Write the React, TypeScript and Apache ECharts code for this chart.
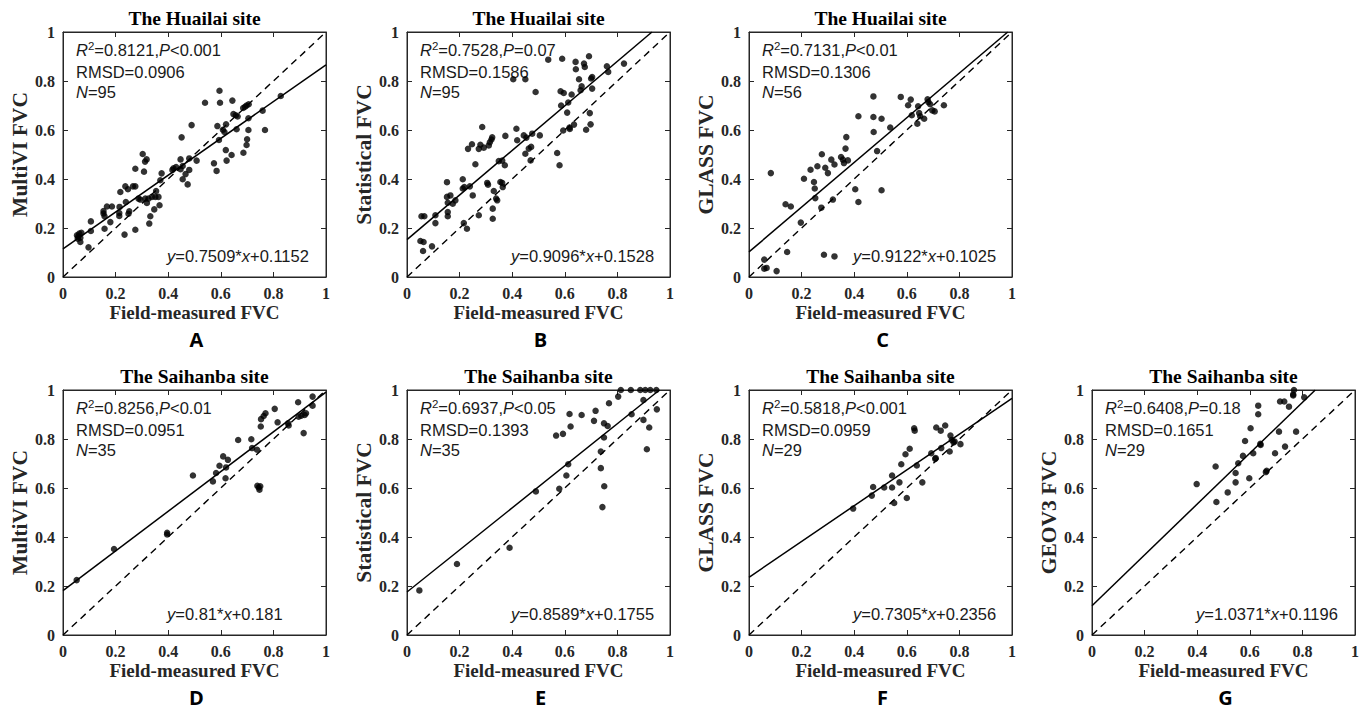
import React, { useEffect, useRef } from 'react';
import * as echarts from 'echarts';

// ---------- data (field-measured FVC, product FVC) ----------
const huailaiMultiVI = [
  [0.053, 0.17], [0.062, 0.177], [0.066, 0.16], [0.056, 0.156], [0.066, 0.143], [0.07, 0.18], [0.058, 0.165],
  [0.097, 0.121], [0.106, 0.188], [0.106, 0.227], [0.154, 0.259], [0.154, 0.269], [0.158, 0.248], [0.158, 0.197],
  [0.167, 0.288], [0.186, 0.288], [0.18, 0.224], [0.214, 0.249], [0.214, 0.261], [0.218, 0.347], [0.215, 0.286],
  [0.234, 0.173], [0.239, 0.306], [0.237, 0.37], [0.247, 0.358], [0.252, 0.268], [0.249, 0.258], [0.266, 0.37],
  [0.275, 0.37], [0.275, 0.442], [0.275, 0.193], [0.287, 0.32], [0.294, 0.316], [0.303, 0.502], [0.308, 0.43],
  [0.313, 0.32], [0.312, 0.471], [0.318, 0.48], [0.319, 0.302], [0.325, 0.32], [0.328, 0.218], [0.332, 0.248],
  [0.338, 0.327], [0.347, 0.276], [0.351, 0.327], [0.354, 0.351], [0.363, 0.327], [0.367, 0.293], [0.37, 0.395],
  [0.375, 0.423], [0.416, 0.437], [0.42, 0.444], [0.43, 0.449], [0.447, 0.44], [0.447, 0.48], [0.451, 0.57],
  [0.455, 0.399], [0.455, 0.453], [0.466, 0.42], [0.474, 0.378], [0.48, 0.437], [0.48, 0.484], [0.489, 0.62],
  [0.508, 0.475], [0.54, 0.711], [0.574, 0.464], [0.584, 0.433], [0.587, 0.616], [0.595, 0.76], [0.597, 0.711],
  [0.593, 0.559], [0.608, 0.601], [0.614, 0.592], [0.62, 0.623], [0.619, 0.518], [0.622, 0.475], [0.641, 0.498],
  [0.644, 0.72], [0.648, 0.665], [0.66, 0.603], [0.657, 0.66], [0.664, 0.655], [0.685, 0.69], [0.692, 0.695],
  [0.698, 0.7], [0.706, 0.705], [0.686, 0.507], [0.698, 0.539], [0.7, 0.562], [0.705, 0.6], [0.705, 0.648],
  [0.759, 0.679], [0.768, 0.6], [0.828, 0.739],
];

const huailaiStatistical = [
  [0.051, 0.147], [0.063, 0.143], [0.061, 0.106], [0.055, 0.248], [0.066, 0.248], [0.095, 0.125], [0.108, 0.22],
  [0.108, 0.252], [0.152, 0.387], [0.152, 0.327], [0.155, 0.303], [0.155, 0.265], [0.155, 0.248], [0.165, 0.333],
  [0.174, 0.299], [0.184, 0.313], [0.212, 0.399], [0.212, 0.361], [0.216, 0.22], [0.218, 0.367], [0.228, 0.197],
  [0.232, 0.523], [0.239, 0.37], [0.247, 0.542], [0.25, 0.333], [0.26, 0.46], [0.273, 0.523], [0.273, 0.252],
  [0.279, 0.54], [0.286, 0.612], [0.292, 0.528], [0.305, 0.384], [0.308, 0.377], [0.311, 0.537], [0.315, 0.55],
  [0.321, 0.561], [0.324, 0.57], [0.326, 0.279], [0.326, 0.238], [0.33, 0.351], [0.339, 0.32], [0.343, 0.313],
  [0.349, 0.473], [0.355, 0.388], [0.362, 0.384], [0.362, 0.475], [0.364, 0.367], [0.372, 0.456], [0.374, 0.576],
  [0.404, 0.807], [0.416, 0.605], [0.419, 0.558], [0.45, 0.807], [0.444, 0.578], [0.45, 0.503], [0.454, 0.569],
  [0.463, 0.524], [0.47, 0.476], [0.472, 0.531], [0.476, 0.585], [0.489, 0.755], [0.505, 0.578], [0.537, 0.887],
  [0.571, 0.506], [0.58, 0.456], [0.584, 0.758], [0.586, 0.7], [0.59, 0.891], [0.594, 0.598], [0.596, 0.751],
  [0.609, 0.671], [0.613, 0.712], [0.618, 0.61], [0.619, 0.604], [0.626, 0.745], [0.635, 0.622], [0.641, 0.878],
  [0.642, 0.848], [0.654, 0.807], [0.66, 0.762], [0.664, 0.778], [0.673, 0.871], [0.676, 0.857], [0.681, 0.601],
  [0.692, 0.901], [0.695, 0.669], [0.698, 0.623], [0.7, 0.81], [0.704, 0.816], [0.704, 0.769], [0.76, 0.86],
  [0.765, 0.837], [0.825, 0.871],
];

const huailaiGLASS = [
  [0.058, 0.071], [0.058, 0.034], [0.067, 0.037], [0.083, 0.424], [0.105, 0.024], [0.139, 0.297], [0.145, 0.102],
  [0.159, 0.288], [0.197, 0.222], [0.209, 0.401], [0.234, 0.438], [0.247, 0.388], [0.25, 0.361], [0.252, 0.322],
  [0.26, 0.452], [0.275, 0.283], [0.277, 0.501], [0.285, 0.091], [0.29, 0.446], [0.3, 0.424], [0.313, 0.479],
  [0.319, 0.316], [0.325, 0.459], [0.325, 0.084], [0.35, 0.49], [0.357, 0.479], [0.361, 0.465], [0.367, 0.524],
  [0.37, 0.571], [0.376, 0.476], [0.404, 0.358], [0.416, 0.656], [0.416, 0.306], [0.473, 0.737], [0.473, 0.653],
  [0.474, 0.592], [0.487, 0.514], [0.504, 0.646], [0.504, 0.354], [0.537, 0.61], [0.577, 0.735], [0.605, 0.701],
  [0.615, 0.724], [0.619, 0.66], [0.64, 0.626], [0.643, 0.697], [0.647, 0.669], [0.651, 0.656], [0.666, 0.646],
  [0.679, 0.725], [0.682, 0.714], [0.689, 0.705], [0.697, 0.68], [0.706, 0.676], [0.741, 0.701],
];

const saihanbaMultiVI = [
  [0.052, 0.224], [0.194, 0.351], [0.396, 0.417], [0.396, 0.41], [0.494, 0.651], [0.57, 0.627], [0.582, 0.661],
  [0.595, 0.691], [0.609, 0.729], [0.618, 0.64], [0.62, 0.684], [0.627, 0.715], [0.666, 0.796], [0.716, 0.799],
  [0.719, 0.763], [0.738, 0.756], [0.739, 0.609], [0.744, 0.602], [0.747, 0.593], [0.75, 0.607], [0.752, 0.851],
  [0.753, 0.881], [0.763, 0.894], [0.77, 0.905], [0.805, 0.923], [0.816, 0.868], [0.856, 0.864], [0.858, 0.855],
  [0.894, 0.95], [0.896, 0.891], [0.906, 0.895], [0.915, 0.824], [0.919, 0.898], [0.924, 0.905], [0.949, 0.973],
  [0.949, 0.936],
];

const saihanbaStatistical = [
  [0.047, 0.182], [0.19, 0.29], [0.39, 0.356], [0.49, 0.586], [0.567, 0.814], [0.579, 0.597], [0.593, 0.821],
  [0.606, 0.651], [0.613, 0.697], [0.618, 0.902], [0.622, 0.851], [0.664, 0.898], [0.711, 0.874], [0.717, 0.915],
  [0.737, 0.681], [0.737, 0.749], [0.743, 0.522], [0.749, 0.806], [0.749, 0.864], [0.75, 0.607], [0.763, 0.853],
  [0.768, 0.946], [0.803, 0.973], [0.813, 1.0], [0.851, 1.0], [0.854, 0.901], [0.887, 1.0], [0.899, 0.878],
  [0.899, 0.959], [0.906, 1.0], [0.912, 0.758], [0.921, 0.847], [0.925, 1.0], [0.948, 1.0], [0.95, 0.921],
];

const saihanbaGLASS = [
  [0.396, 0.516], [0.467, 0.569], [0.472, 0.604], [0.514, 0.602], [0.544, 0.651], [0.544, 0.602], [0.552, 0.539],
  [0.572, 0.623], [0.579, 0.697], [0.595, 0.738], [0.6, 0.559], [0.611, 0.76], [0.628, 0.844], [0.63, 0.834],
  [0.638, 0.692], [0.659, 0.623], [0.693, 0.742], [0.708, 0.719], [0.712, 0.847], [0.729, 0.834], [0.731, 0.763],
  [0.746, 0.855], [0.763, 0.749], [0.766, 0.814], [0.771, 0.796], [0.778, 0.786], [0.782, 0.79], [0.804, 0.779],
  [0.71, 0.722],
];

const saihanbaGEOV3 = [
  [0.398, 0.616], [0.47, 0.688], [0.473, 0.543], [0.516, 0.582], [0.546, 0.623], [0.546, 0.661], [0.556, 0.701],
  [0.574, 0.731], [0.582, 0.792], [0.598, 0.64], [0.603, 0.844], [0.613, 0.742], [0.632, 0.936], [0.632, 0.901],
  [0.641, 0.776], [0.661, 0.665], [0.664, 0.67], [0.696, 0.742], [0.711, 0.83], [0.715, 0.953], [0.731, 0.953],
  [0.734, 0.769], [0.749, 0.932], [0.765, 0.982], [0.768, 1.0], [0.776, 0.83], [0.807, 0.97], [0.765, 0.978],
  [0.64, 0.78],
];

const siteTitles = [
  'The Huailai site', 'The Huailai site', 'The Huailai site',
  'The Saihanba site', 'The Saihanba site', 'The Saihanba site', 'The Saihanba site',
];
const yAxisNames = ['MultiVI FVC', 'Statistical FVC', 'GLASS FVC', 'MultiVI FVC', 'Statistical FVC', 'GLASS FVC', 'GEOV3 FVC'];
const xAxisName = 'Field-measured FVC';
const r2Texts = ['0.8121', '0.7528', '0.7131', '0.8256', '0.6937', '0.5818', '0.6408'];
const pTexts = ['<0.001', '=0.07', '<0.01', '<0.01', '<0.05', '<0.001', '=0.18'];
const rmsdTexts = ['0.0906', '0.1586', '0.1306', '0.0951', '0.1393', '0.0959', '0.1651'];
const nTexts = ['95', '95', '56', '35', '35', '29', '29'];
const slopes = [0.7509, 0.9096, 0.9122, 0.81, 0.8589, 0.7305, 1.0371];
const intercepts = [0.1152, 0.1528, 0.1025, 0.181, 0.1755, 0.2356, 0.1196];
const panelLetters = ['A', 'B', 'C', 'D', 'E', 'F', 'G'];

const panelData = [
  huailaiMultiVI, huailaiStatistical, huailaiGLASS,
  saihanbaMultiVI, saihanbaStatistical, saihanbaGLASS, saihanbaGEOV3,
];

// ---------- layout ----------
const GRID_W = 263;
const GRID_H = 245;
const gridLefts = [63, 407, 749, 63, 407, 749, 1092];
const gridTops = [32, 32, 32, 390, 390, 390, 390];

const AXIS_COLOR = '#262626';
const SERIF = '"Liberation Serif", "Times New Roman", serif';
const SANS = '"Liberation Sans", Arial, sans-serif';

export default function App() {
  const ref = useRef<HTMLDivElement>(null);

  useEffect(() => {
    if (!ref.current) return;
    const chart = echarts.init(ref.current, undefined, { renderer: 'svg' });

    const grids: any[] = [];
    const xAxes: any[] = [];
    const yAxes: any[] = [];
    const series: any[] = [];
    const graphics: any[] = [];

    const tickLabel = { fontFamily: SERIF, fontWeight: 'bold', fontSize: 16, color: AXIS_COLOR };
    const nameStyle = { fontFamily: SERIF, fontWeight: 'bold', color: AXIS_COLOR };

    panelData.forEach((data, i) => {
      const left = gridLefts[i];
      const top = gridTops[i];
      grids.push({
        left, top, width: GRID_W, height: GRID_H,
        show: true, borderColor: AXIS_COLOR, borderWidth: 1, backgroundColor: 'transparent',
        containLabel: false,
      });
      const common = {
        gridIndex: i, type: 'value', min: 0, max: 1, interval: 0.2,
        splitLine: { show: false },
        axisLine: { show: true, onZero: false, lineStyle: { color: AXIS_COLOR, width: 1 } },
        axisTick: { show: true, inside: true, length: 5, lineStyle: { color: AXIS_COLOR } },
      };
      xAxes.push({
        ...common, position: 'bottom',
        name: xAxisName, nameLocation: 'middle', nameGap: 26,
        nameTextStyle: { ...nameStyle, fontSize: 19 },
        axisLabel: { ...tickLabel, margin: 8 },
      });
      yAxes.push({
        ...common, position: 'left',
        name: yAxisNames[i], nameLocation: 'middle', nameGap: 30,
        nameTextStyle: { ...nameStyle, fontSize: 21.5 },
        axisLabel: { ...tickLabel, margin: 8 },
      });

      series.push({
        type: 'scatter', xAxisIndex: i, yAxisIndex: i, data,
        symbol: 'circle', symbolSize: 6.5, itemStyle: { color: '#000' }, z: 3,
      });
      series.push({
        type: 'line', xAxisIndex: i, yAxisIndex: i, data: [[0, 0], [1, 1]],
        symbol: 'none', lineStyle: { color: '#000', width: 1.4, type: [7, 5] }, z: 2,
      });
      const a = slopes[i];
      const b = intercepts[i];
      const xEnd = Math.min(1, (1 - b) / a);
      series.push({
        type: 'line', xAxisIndex: i, yAxisIndex: i, data: [[0, b], [xEnd, a * xEnd + b]],
        symbol: 'none', lineStyle: { color: '#000', width: 1.5 }, z: 2,
      });

      // Title
      graphics.push({
        type: 'text', x: left + GRID_W / 2, y: top - 14,
        style: {
          text: siteTitles[i], fontFamily: SERIF, fontWeight: 'bold', fontSize: 19.5, fill: '#000',
          align: 'center', verticalAlign: 'middle', textAlign: 'center', textVerticalAlign: 'middle',
        },
      });

      const rich = {
        n: { fontFamily: SANS, fontSize: 16.5, fill: '#1a1a1a', lineHeight: 20 },
        i: { fontFamily: SANS, fontSize: 16.5, fontStyle: 'italic', fill: '#1a1a1a', lineHeight: 20 },
        s: { fontFamily: SANS, fontSize: 11.5, fill: '#1a1a1a', verticalAlign: 'top', lineHeight: 11 },
      };
      const lines = [
        `{i|R}{s|2}{n|=${r2Texts[i]},}{i|P}{n|${pTexts[i]}}`,
        `{n|RMSD=${rmsdTexts[i]}}`,
        `{i|N}{n|=${nTexts[i]}}`,
      ];
      const lineYs = [18, 40, 60];
      lines.forEach((t, k) => {
        graphics.push({
          type: 'text', x: left + 13, y: top + lineYs[k],
          style: { text: t, rich, align: 'left', verticalAlign: 'middle', textAlign: 'left', textVerticalAlign: 'middle' },
        });
      });
      graphics.push({
        type: 'text', x: left + 104, y: top + GRID_H - 21,
        style: {
          text: `{i|y}{n|=${slopes[i]}*}{i|x}{n|+${intercepts[i]}}`, rich,
          align: 'left', verticalAlign: 'middle', textAlign: 'left', textVerticalAlign: 'middle',
        },
      });
      graphics.push({
        type: 'text', x: left + GRID_W / 2 + 2, y: top + GRID_H + 62,
        style: {
          text: panelLetters[i], fontFamily: '"Open Sans", "Noto Sans", sans-serif', fontWeight: 'bold',
          fontSize: 20, fill: '#000',
          align: 'center', verticalAlign: 'middle', textAlign: 'center', textVerticalAlign: 'middle',
        },
      });
    });

    // top / right tick-only axes for the MATLAB-style box
    panelData.forEach((_, i) => {
      const common = {
        gridIndex: i, type: 'value', min: 0, max: 1, interval: 0.2,
        splitLine: { show: false }, axisLabel: { show: false },
        axisLine: { show: true, onZero: false, lineStyle: { color: AXIS_COLOR, width: 1 } },
        axisTick: { show: true, inside: true, length: 5, lineStyle: { color: AXIS_COLOR } },
      };
      xAxes.push({ ...common, position: 'top' });
      yAxes.push({ ...common, position: 'right' });
    });

    chart.setOption({
      animation: false,
      backgroundColor: '#fff',
      grid: grids,
      xAxis: xAxes,
      yAxis: yAxes,
      series,
      graphic: { elements: graphics },
    });

    return () => chart.dispose();
  }, []);

  return (
    <div
      ref={ref}
      style={{ position: 'absolute', left: 0, top: 0, width: 1367, height: 712, background: '#fff' }}
    />
  );
}
